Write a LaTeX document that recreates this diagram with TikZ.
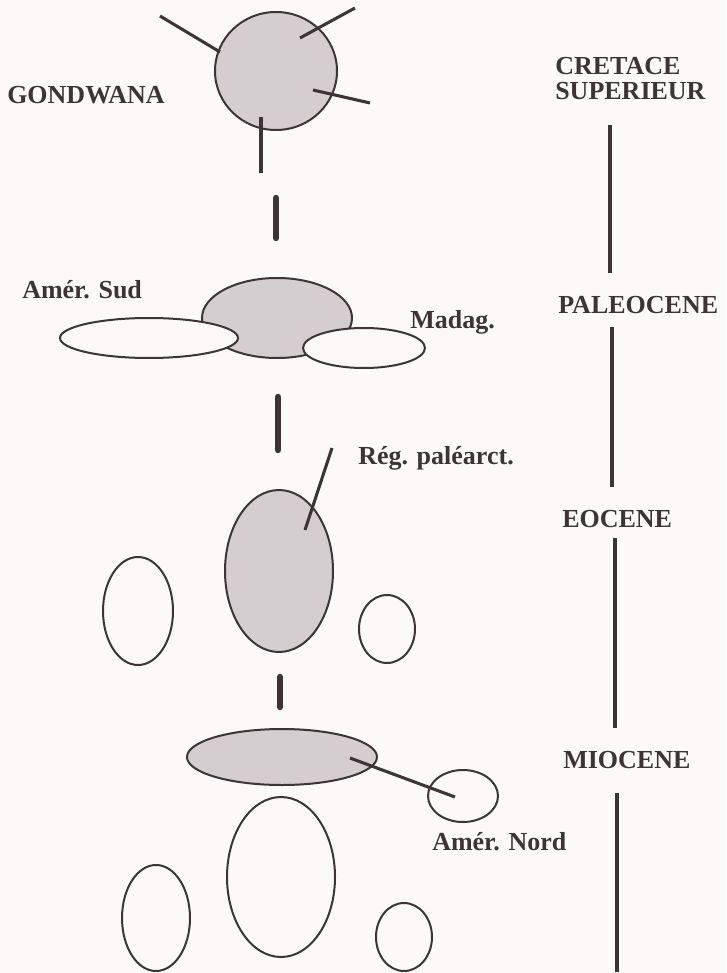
\documentclass[tikz,border=0pt]{standalone}
\usepackage{fontspec}
\setmainfont{Liberation Serif}
\usetikzlibrary{shapes.geometric}
\definecolor{bg}{RGB}{252,250,248}
\definecolor{ink}{RGB}{62,52,56}
\definecolor{stip}{RGB}{212,206,208}
\begin{document}
\begin{tikzpicture}[x=0.75pt,y=-0.75pt,
  lab/.style={font=\fontsize{19.5}{23}\selectfont\bfseries, text=ink, anchor=base west, inner sep=0pt},
  ell/.style 2 args={ellipse, draw=ink, line width=1.5pt, minimum width=#1*1.5pt, minimum height=#2*1.5pt, inner sep=0pt},
  greyfill/.style={fill=stip},
  whitefill/.style={fill=bg},
  ptr/.style={draw=ink, line width=2.3pt},
  dashbar/.style={draw=ink, line width=4.8pt, line cap=round},
  vline/.style={draw=ink, line width=2.3pt}]
\useasboundingbox[fill=bg] (0,0) rectangle (726,973);

% ---- Gondwana
\node[ell={61}{59}, greyfill] (gond) at (276,71) {};
\coordinate (g1a) at (160,16);  \coordinate (g1b) at (220,52);
\coordinate (g2a) at (300,38);  \coordinate (g2b) at (355,8);
\coordinate (g3a) at (313,90);  \coordinate (g3b) at (370,103);
\coordinate (g4a) at (261,117); \coordinate (g4b) at (261,173);
\draw[ptr] (g1a) -- (g1b);
\draw[ptr] (g2a) -- (g2b);
\draw[ptr] (g3a) -- (g3b);
\draw[ptr] (g4a) -- (g4b);
\node[lab] (gondlab) at (7,104) {GONDWANA};

\coordinate (d1a) at (276,198); \coordinate (d1b) at (276,238);
\draw[dashbar] (d1a) -- (d1b);

% ---- Paleocene
\node[ell={75}{40}, greyfill] (pal) at (277,318) {};
\node[ell={89}{20}, whitefill] (amsud) at (149,338) {};
\node[ell={61}{20}, whitefill] (madag) at (364,348) {};
\node[lab] (amsudlab) at (22,298) {Amér. Sud};
\node[lab] (madaglab) at (410,328) {Madag.};

\coordinate (d2a) at (278,397); \coordinate (d2b) at (278,450);
\draw[dashbar] (d2a) -- (d2b);

% ---- Eocene
\node[ell={54}{81}, greyfill] (pal2) at (279,571) {};
\node[ell={35}{54}, whitefill] (e2) at (138,611) {};
\node[ell={28}{34}, whitefill] (e3) at (387,629) {};
\node[lab] (reglab) at (358,464) {Rég. paléarct.};
\coordinate (r1a) at (332,448); \coordinate (r1b) at (305,530);
\draw[ptr] (r1a) -- (r1b);

\coordinate (d3a) at (280,677); \coordinate (d3b) at (280,707);
\draw[dashbar] (d3a) -- (d3b);

% ---- Miocene
\node[ell={95}{28}, greyfill] (mio) at (282,757) {};
\node[ell={35}{26}, whitefill] (amnord) at (463,796) {};
\coordinate (m1a) at (350,758); \coordinate (m1b) at (455,797);
\draw[ptr] (m1a) -- (m1b);
\node[lab] (amnordlab) at (432,850) {Amér. Nord};
\node[ell={54}{80}, whitefill] (m2) at (281,877) {};
\node[ell={34}{53}, whitefill] (m3) at (156,918) {};
\node[ell={28}{34}, whitefill] (m4) at (404,937) {};

% ---- Time scale
\node[lab] (cret) at (555,75) {CRETACE};
\node[lab] (sup) at (555,100) {SUPERIEUR};
\node[lab] (paleo) at (558,313) {PALEOCENE};
\node[lab] (eoc) at (562,527) {EOCENE};
\node[lab] (mioc) at (563,768) {MIOCENE};
\coordinate (t1a) at (610,125); \coordinate (t1b) at (610,273);
\coordinate (t2a) at (612,327); \coordinate (t2b) at (612,487);
\coordinate (t3a) at (615,538); \coordinate (t3b) at (615,728);
\coordinate (t4a) at (617,793); \coordinate (t4b) at (617,972);
\draw[vline] (t1a) -- (t1b);
\draw[vline] (t2a) -- (t2b);
\draw[vline] (t3a) -- (t3b);
\draw[vline] (t4a) -- (t4b);
\end{tikzpicture}
\end{document}
